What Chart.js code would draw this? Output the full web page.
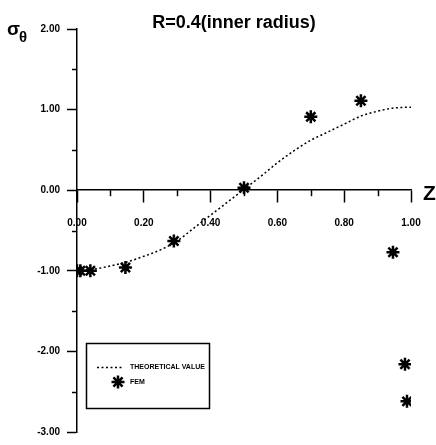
<!DOCTYPE html>
<html>
<head>
<meta charset="utf-8">
<script src="https://cdn.jsdelivr.net/npm/chart.js@4"></script>
<style>
    html, body { margin: 0; padding: 0; background: #fff; }
    #wrap { width: 436px; height: 445px; position: relative; }
</style>
</head>
<body>
<div id="wrap"><canvas id="sigmaChart"></canvas></div>
<script>
// Theoretical value (dotted curve)
const theoryZ = [0, 0.05, 0.1, 0.15, 0.2, 0.25, 0.3, 0.35, 0.4, 0.45, 0.5, 0.55, 0.6, 0.65, 0.7, 0.75, 0.8, 0.85, 0.9, 0.95, 1.0];
const theorySigma = [-1.0, -0.98, -0.94, -0.89, -0.82, -0.74, -0.63, -0.47, -0.31, -0.15, 0.01, 0.17, 0.34, 0.49, 0.62, 0.72, 0.82, 0.92, 0.98, 1.02, 1.03];

// FEM results (stars)
const femZ = [0.0, 0.01, 0.04, 0.145, 0.29, 0.5, 0.7, 0.85, 0.946, 0.982, 0.988];
const femSigma = [-1.0, -1.0, -1.0, -0.96, -0.63, 0.03, 0.91, 1.11, -0.77, -2.16, -2.62];

// Axes
const xMin = 0, xMax = 1, xStep = 0.1;
const yMin = -3, yMax = 2, yStep = 0.5;

const seriesLabels = ['THEORETICAL VALUE', 'FEM'];

const isMajorX = v => Math.round(v * 10) % 2 === 0;
const isMajorY = v => Math.abs(v - Math.round(v)) < 1e-6;

// Extra drawing: title, axis names, short minor ticks, boxed legend
const decorPlugin = {
    id: 'decor',
    afterDraw(chart) {
        const ctx = chart.ctx;
        const xs = chart.scales.x;
        const ys = chart.scales.y;
        const y0 = ys.getPixelForValue(0);
        ctx.save();
        ctx.strokeStyle = '#000';
        ctx.lineWidth = 1.5;

        // minor ticks
        xs.ticks.forEach(t => {
            if (isMajorX(t.value)) return;
            const px = Math.round(xs.getPixelForValue(t.value)) + 0.5;
            ctx.beginPath();
            ctx.moveTo(px, y0);
            ctx.lineTo(px, y0 + 6);
            ctx.stroke();
        });
        ys.ticks.forEach(t => {
            if (isMajorY(t.value)) return;
            const py = Math.round(ys.getPixelForValue(t.value)) + 0.5;
            ctx.beginPath();
            ctx.moveTo(xs.left - 5, py);
            ctx.lineTo(xs.left, py);
            ctx.stroke();
        });

        // title and axis names
        ctx.fillStyle = '#000';
        ctx.textBaseline = 'alphabetic';
        ctx.textAlign = 'center';
        ctx.font = 'bold 18px "Liberation Sans", Arial, sans-serif';
        ctx.fillText('R=0.4(inner radius)', 234, 28);

        ctx.textAlign = 'left';
        ctx.font = 'bold 19px "Liberation Sans", Arial, sans-serif';
        ctx.fillText('σ', 7, 35);
        ctx.font = 'bold 15px "Liberation Sans", Arial, sans-serif';
        ctx.fillText('θ', 19, 42);

        ctx.font = 'bold 21px "Liberation Sans", Arial, sans-serif';
        ctx.fillText('Z', 423, 200);

        // legend box
        const bx = 86, by = 343, bw = 123, bh = 65;
        ctx.lineWidth = 1.5;
        ctx.strokeRect(bx + 0.5, by + 0.5, bw, bh);

        const ds = chart.data.datasets;
        const rows = [by + 24, by + 39];
        ctx.font = 'bold 7px "Liberation Sans", Arial, sans-serif';
        ctx.textBaseline = 'middle';
        ds.forEach((d, i) => {
            const ry = rows[i];
            if (d.showLine) {
                ctx.save();
                ctx.lineWidth = d.borderWidth;
                ctx.setLineDash(d.borderDash);
                ctx.beginPath();
                ctx.moveTo(bx + 11, ry + 0.5);
                ctx.lineTo(bx + 36, ry + 0.5);
                ctx.stroke();
                ctx.restore();
            } else {
                ctx.save();
                ctx.lineWidth = d.borderWidth;
                Chart.helpers.drawPoint(ctx, {
                    pointStyle: d.pointStyle,
                    radius: d.pointRadius,
                    rotation: 0,
                    borderWidth: d.borderWidth
                }, bx + 32, ry);
                ctx.restore();
            }
            ctx.fillText(d.label, bx + 44, ry);
        });
        ctx.restore();
    }
};

const tickFont = { family: '"Liberation Sans", Arial, sans-serif', size: 10, weight: 'bold' };

new Chart(document.getElementById('sigmaChart'), {
    type: 'scatter',
    data: {
        datasets: [{
            label: seriesLabels[0],
            data: theoryZ.map((z, i) => ({ x: z, y: theorySigma[i] })),
            showLine: true,
            borderColor: '#000',
            borderWidth: 1.5,
            borderDash: [2, 2.5],
            pointRadius: 0,
            tension: 0.4,
            cubicInterpolationMode: 'monotone',
            order: 2
        }, {
            label: seriesLabels[1],
            data: femZ.map((z, i) => ({ x: z, y: femSigma[i] })),
            showLine: false,
            pointStyle: 'star',
            pointRadius: 6.5,
            borderColor: '#000',
            backgroundColor: '#000',
            borderWidth: 2.5,
            order: 1
        }]
    },
    options: {
        responsive: true,
        maintainAspectRatio: false,
        animation: false,
        layout: { padding: { top: 29, right: 25, bottom: 8, left: 0 } },
        plugins: {
            legend: { display: false },
            title: { display: false },
            tooltip: { enabled: false }
        },
        scales: {
            x: {
                type: 'linear',
                position: { y: 0 },
                min: xMin,
                max: xMax,
                afterFit: scale => { scale.height = 0; },
                border: { display: true, color: '#000', width: 1.5 },
                grid: {
                    drawOnChartArea: false,
                    tickLength: 12,
                    tickWidth: 1.5,
                    tickColor: c => (c.tick && isMajorX(c.tick.value)) ? '#000' : 'rgba(0,0,0,0)'
                },
                ticks: {
                    stepSize: xStep,
                    autoSkip: false,
                    maxRotation: 0,
                    padding: 15,
                    color: '#000',
                    font: tickFont,
                    callback: v => isMajorX(v) ? v.toFixed(2) : ''
                }
            },
            y: {
                type: 'linear',
                position: 'left',
                min: yMin,
                max: yMax,
                afterFit: scale => { scale.width = 77; },
                border: { display: true, color: '#000', width: 1.5 },
                grid: {
                    drawOnChartArea: false,
                    tickLength: 10,
                    tickWidth: 1.5,
                    tickColor: c => (c.tick && isMajorY(c.tick.value)) ? '#000' : 'rgba(0,0,0,0)'
                },
                ticks: {
                    stepSize: yStep,
                    autoSkip: false,
                    padding: 7,
                    color: '#000',
                    font: tickFont,
                    callback: v => isMajorY(v) ? v.toFixed(2) : ''
                }
            }
        }
    },
    plugins: [decorPlugin]
});
</script>
</body>
</html>
